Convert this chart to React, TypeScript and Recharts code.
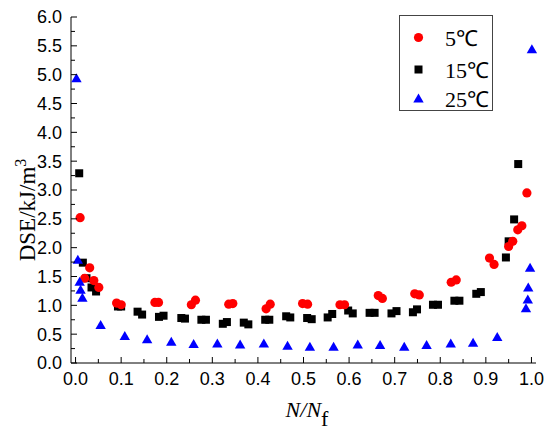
import React from "react";
import { Label, Legend, Scatter, ScatterChart, XAxis, YAxis } from "recharts";

// temperature series
const seriesNames = ["5℃", "15℃", "25℃"];
const seriesColors = ["#ff0000", "#000000", "#0000ff"];

const x5 = [0.010, 0.020, 0.031, 0.040, 0.051, 0.090, 0.100, 0.174, 0.182, 0.254, 0.263, 0.336, 0.345, 0.418, 0.427, 0.498, 0.509, 0.580, 0.590, 0.664, 0.673, 0.744, 0.754, 0.824, 0.835, 0.908, 0.918, 0.950, 0.959, 0.970, 0.979, 0.990];
const y5 = [2.52, 1.47, 1.65, 1.43, 1.31, 1.04, 1.01, 1.05, 1.05, 1.01, 1.09, 1.02, 1.03, 0.94, 1.02, 1.03, 1.02, 1.01, 1.01, 1.17, 1.12, 1.20, 1.18, 1.40, 1.44, 1.82, 1.71, 2.02, 2.11, 2.31, 2.38, 2.95];

const x15 = [0.008, 0.016, 0.024, 0.035, 0.045, 0.093, 0.100, 0.136, 0.146, 0.183, 0.193, 0.232, 0.240, 0.276, 0.286, 0.323, 0.332, 0.369, 0.379, 0.416, 0.425, 0.462, 0.471, 0.508, 0.518, 0.553, 0.563, 0.598, 0.608, 0.645, 0.656, 0.693, 0.704, 0.740, 0.749, 0.784, 0.795, 0.831, 0.842, 0.879, 0.889, 0.944, 0.950, 0.962, 0.971];
const y15 = [3.29, 1.74, 1.47, 1.31, 1.24, 0.98, 0.98, 0.89, 0.84, 0.80, 0.82, 0.78, 0.77, 0.75, 0.75, 0.68, 0.71, 0.70, 0.67, 0.75, 0.75, 0.81, 0.79, 0.78, 0.76, 0.79, 0.85, 0.91, 0.86, 0.87, 0.87, 0.86, 0.90, 0.88, 0.93, 1.01, 1.01, 1.08, 1.08, 1.20, 1.23, 1.83, 2.11, 2.49, 3.45];

const x25 = [0.002, 0.005, 0.009, 0.011, 0.015, 0.055, 0.108, 0.157, 0.210, 0.259, 0.311, 0.361, 0.413, 0.465, 0.514, 0.566, 0.619, 0.668, 0.721, 0.770, 0.823, 0.872, 0.925, 0.988, 0.992, 0.993, 0.997, 1.001];
const y25 = [4.94, 1.79, 1.41, 1.27, 1.13, 0.66, 0.47, 0.41, 0.37, 0.33, 0.34, 0.32, 0.34, 0.30, 0.28, 0.28, 0.32, 0.31, 0.28, 0.31, 0.34, 0.35, 0.45, 0.95, 1.10, 1.31, 1.65, 5.44];

const xMajorTicks = [0, 0.1, 0.2, 0.3, 0.4, 0.5, 0.6, 0.7, 0.8, 0.9, 1.0];
const xMinorTicks = [0.05, 0.15, 0.25, 0.35, 0.45, 0.55, 0.65, 0.75, 0.85, 0.95];
const yMajorTicks = [0, 0.5, 1.0, 1.5, 2.0, 2.5, 3.0, 3.5, 4.0, 4.5, 5.0, 5.5, 6.0];
const yMinorTicks = [0.25, 0.75, 1.25, 1.75, 2.25, 2.75, 3.25, 3.75, 4.25, 4.75, 5.25, 5.75];

const toPoints = (xs: number[], ys: number[]) => xs.map((x, i) => ({ x, y: ys[i] }));

const SANS = "'Liberation Sans', Arial, sans-serif";
const SERIF = "'Liberation Serif', 'Times New Roman', serif";

const Marker = ({ kind, cx, cy, color }: { kind: number; cx: number; cy: number; color: string }) => {
    if (kind === 0) return <circle cx={cx} cy={cy} r={4.6} fill={color} />;
    if (kind === 1) return <rect x={cx - 4} y={cy - 4} width={8} height={8} fill={color} />;
    return <polygon points={`${cx},${cy - 5} ${cx + 5.2},${cy + 4} ${cx - 5.2},${cy + 4}`} fill={color} />;
};

const XTick = (props: any) => {
    const { x, y, payload } = props;
    const major = xMajorTicks.includes(payload.value);
    return (
        <g>
            <line x1={x} y1={y} x2={x} y2={y - (major ? 6 : 4)} stroke="#000" />
            {major && (
                <text x={x} y={y + 22} textAnchor="middle" fontFamily={SANS} fontSize={18} fill="#000">
                    {payload.value.toFixed(1)}
                </text>
            )}
        </g>
    );
};

const YTick = (props: any) => {
    const { x, y, payload } = props;
    const major = yMajorTicks.includes(payload.value);
    return (
        <g>
            <line x1={x} y1={y} x2={x + (major ? 6 : 4)} y2={y} stroke="#000" />
            {major && (
                <text x={x - 9} y={y} dy="0.36em" textAnchor="end" fontFamily={SANS} fontSize={18} fill="#000">
                    {payload.value.toFixed(1)}
                </text>
            )}
        </g>
    );
};

const LegendBox = () => (
    <svg width={94} height={96} style={{ display: "block" }}>
        <rect x={0.5} y={0.5} width={93} height={95} fill="#fff" stroke="#444" />
        {seriesNames.map((name, i) => {
            const cy = [22.5, 54.5, 83.5][i];
            return (
                <g key={name}>
                    <Marker kind={i} cx={19.5} cy={cy} color={seriesColors[i]} />
                    <text x={46} y={cy + 8} fontFamily={SERIF} fontSize={22} fill="#000">
                        {name}
                    </text>
                </g>
            );
        })}
    </svg>
);

export default function App() {
    return (
        <div style={{ position: "absolute", left: 0, top: 0, background: "#fff" }}>
            <ScatterChart width={550} height={433} margin={{ top: 17, right: 14, bottom: 0, left: 0 }}>
                <XAxis
                    type="number"
                    dataKey="x"
                    domain={[-0.01, 1.01]}
                    ticks={[...xMajorTicks, ...xMinorTicks].sort((a, b) => a - b)}
                    interval={0}
                    height={70}
                    tickSize={0}
                    tickMargin={0}
                    tickLine={false}
                    axisLine={{ stroke: "#000" }}
                    tick={<XTick />}
                >
                    <Label
                        content={() => (
                            <text x={307} y={417} textAnchor="middle" fontFamily={SERIF} fontSize={22} fill="#000">
                                <tspan fontStyle="italic">N/N</tspan>
                                <tspan dy={9}>f</tspan>
                            </text>
                        )}
                    />
                </XAxis>
                <YAxis
                    type="number"
                    dataKey="y"
                    domain={[0, 6]}
                    ticks={[...yMajorTicks, ...yMinorTicks].sort((a, b) => a - b)}
                    interval={0}
                    width={71}
                    tickSize={0}
                    tickMargin={0}
                    tickLine={false}
                    axisLine={{ stroke: "#000" }}
                    tick={<YTick />}
                >
                    <Label
                        content={() => (
                            <text
                                transform="translate(35,210) rotate(-90)"
                                textAnchor="middle"
                                fontFamily={SERIF}
                                fontSize={23}
                                fill="#000"
                            >
                                DSE/kJ/m<tspan dy={-9} fontSize={16}>3</tspan>
                            </text>
                        )}
                    />
                </YAxis>
                <Legend
                    layout="vertical"
                    align="center"
                    verticalAlign="middle"
                    wrapperStyle={{ left: 399, top: 15, width: 94, height: 96 }}
                    content={() => <LegendBox />}
                />
                <Scatter
                    name={seriesNames[1]}
                    data={toPoints(x15, y15)}
                    isAnimationActive={false}
                    shape={(p: any) => <Marker kind={1} cx={p.cx} cy={p.cy} color={seriesColors[1]} />}
                />
                <Scatter
                    name={seriesNames[0]}
                    data={toPoints(x5, y5)}
                    isAnimationActive={false}
                    shape={(p: any) => <Marker kind={0} cx={p.cx} cy={p.cy} color={seriesColors[0]} />}
                />
                <Scatter
                    name={seriesNames[2]}
                    data={toPoints(x25, y25)}
                    isAnimationActive={false}
                    shape={(p: any) => <Marker kind={2} cx={p.cx} cy={p.cy} color={seriesColors[2]} />}
                />
            </ScatterChart>
        </div>
    );
}
